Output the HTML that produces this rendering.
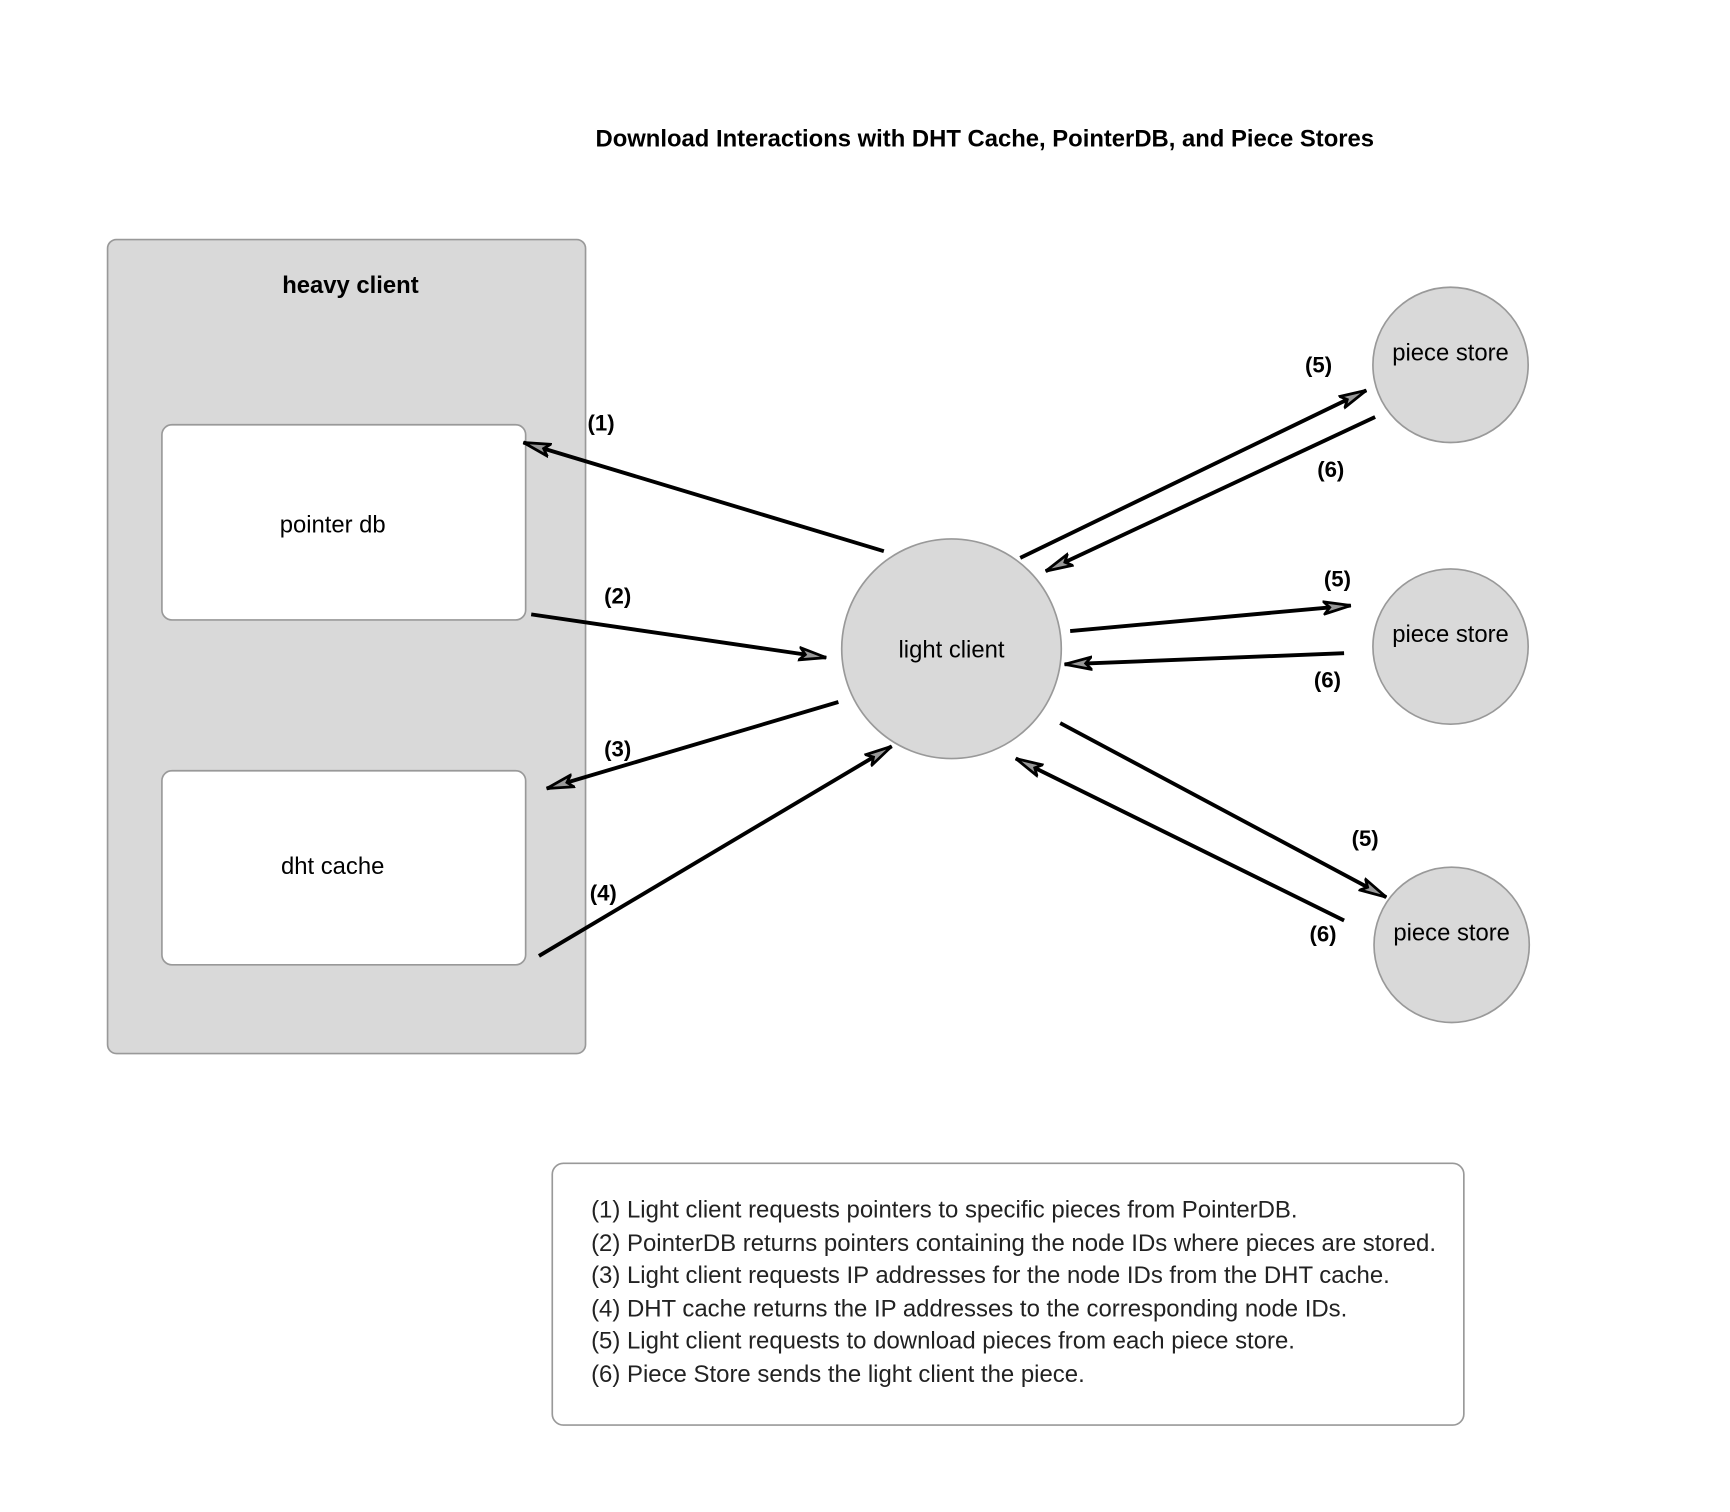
<!DOCTYPE html>
<html><head><meta charset="utf-8"><style>html,body{margin:0;padding:0;background:#fff}svg{display:block}</style></head>
<body>
<svg width="1730" height="1512" viewBox="0 0 1560 1363.4" xmlns="http://www.w3.org/2000/svg" font-family="Liberation Sans, Arial, sans-serif">
<defs>
<marker id="a" viewBox="0 0 26 14" refX="25" refY="7" markerWidth="26" markerHeight="14" markerUnits="userSpaceOnUse" orient="auto">
<path d="M1,1.5 L25,7 L1,12.5 L6,7 Z" fill="#999" stroke="#000" stroke-width="2.5" stroke-linejoin="miter"/>
</marker>
</defs>
<text x="888" y="132" font-size="21.5" font-weight="bold" text-anchor="middle">Download Interactions with DHT Cache, PointerDB, and Piece Stores</text>
<rect x="97" y="216" width="431" height="734" rx="8" fill="#d9d9d9" stroke="#999" stroke-width="1.5"/>
<text x="316" y="264" font-size="21.5" font-weight="bold" text-anchor="middle">heavy client</text>
<rect x="146" y="383" width="328" height="176" rx="9" fill="#fff" stroke="#999" stroke-width="1.5"/>
<text x="300" y="480" font-size="21.5" text-anchor="middle">pointer db</text>
<rect x="146" y="695" width="328" height="175" rx="9" fill="#fff" stroke="#999" stroke-width="1.5"/>
<text x="300" y="788" font-size="21.5" text-anchor="middle">dht cache</text>
<circle cx="858" cy="585" r="99" fill="#d9d9d9" stroke="#999" stroke-width="1.5"/>
<text x="858" y="593" font-size="21.5" text-anchor="middle">light client</text>
<circle cx="1308" cy="329" r="70" fill="#d9d9d9" stroke="#999" stroke-width="1.5"/>
<text x="1308" y="325" font-size="21.5" text-anchor="middle">piece store</text>
<circle cx="1308" cy="583" r="70" fill="#d9d9d9" stroke="#999" stroke-width="1.5"/>
<text x="1308" y="579" font-size="21.5" text-anchor="middle">piece store</text>
<circle cx="1309" cy="852" r="70" fill="#d9d9d9" stroke="#999" stroke-width="1.5"/>
<text x="1309" y="848" font-size="21.5" text-anchor="middle">piece store</text>
<g stroke="#000" stroke-width="3.5" fill="none" marker-end="url(#a)">
<line x1="797" y1="497" x2="472" y2="399"/>
<line x1="479" y1="554" x2="745" y2="593"/>
<line x1="756" y1="633" x2="493" y2="711"/>
<line x1="486" y1="862" x2="804" y2="673"/>
<line x1="920" y1="503" x2="1232" y2="352"/>
<line x1="1240" y1="376" x2="943" y2="515"/>
<line x1="965" y1="569" x2="1218" y2="546"/>
<line x1="1212" y1="589" x2="960" y2="599"/>
<line x1="956" y1="652" x2="1250" y2="809"/>
<line x1="1212" y1="830" x2="916" y2="684"/>
</g>
<g font-size="20" font-weight="bold" text-anchor="middle">
<text x="542" y="388">(1)</text>
<text x="557" y="544">(2)</text>
<text x="557" y="682">(3)</text>
<text x="544" y="812">(4)</text>
<text x="1189" y="336">(5)</text>
<text x="1200" y="430">(6)</text>
<text x="1206" y="529">(5)</text>
<text x="1197" y="620">(6)</text>
<text x="1231" y="763">(5)</text>
<text x="1193" y="849">(6)</text>
</g>
<rect x="498" y="1049" width="822" height="236" rx="10" fill="#fff" stroke="#999" stroke-width="1.5"/>
<g font-size="21.6" fill="#222">
<text x="533" y="1098">(1) Light client requests pointers to specific pieces from PointerDB.</text>
<text x="533" y="1128">(2) PointerDB returns pointers containing the node IDs where pieces are stored.</text>
<text x="533" y="1157">(3) Light client requests IP addresses for the node IDs from the DHT cache.</text>
<text x="533" y="1187">(4) DHT cache returns the IP addresses to the corresponding node IDs.</text>
<text x="533" y="1216">(5) Light client requests to download pieces from each piece store.</text>
<text x="533" y="1246">(6) Piece Store sends the light client the piece.</text>
</g>
</svg>
</body></html>
